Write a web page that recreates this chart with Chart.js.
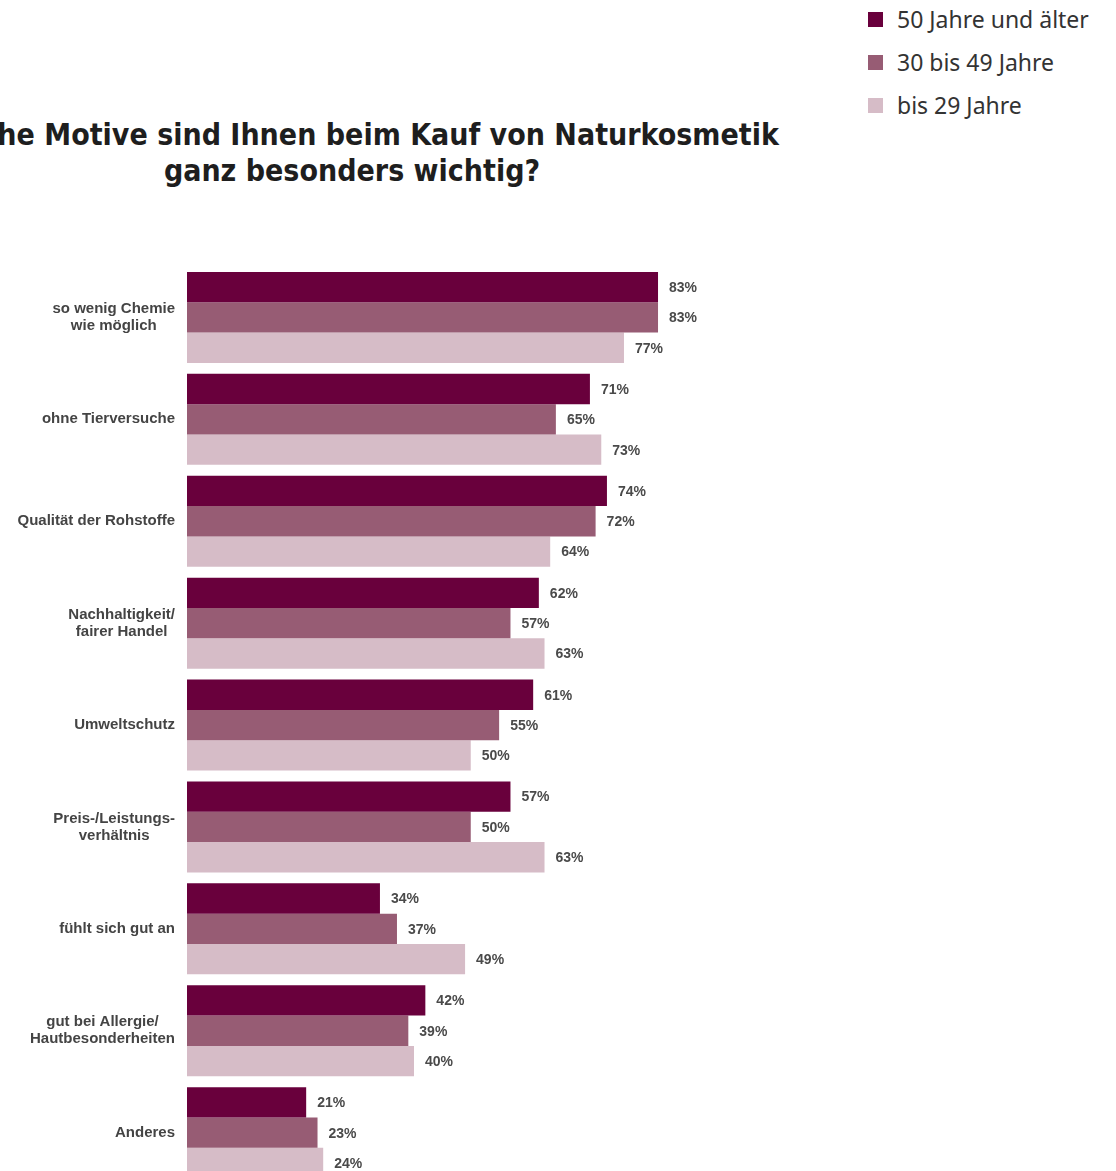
<!DOCTYPE html>
<html lang="de">
<head>
<meta charset="utf-8">
<title>Motive Naturkosmetik</title>
<script src="https://cdn.jsdelivr.net/npm/chart.js@4.4.1/dist/chart.umd.min.js"></script>
<style>
  html, body { margin: 0; padding: 0; background: #fff; overflow: hidden; }
  #wrap { position: relative; width: 1116px; height: 1190px; }
  #title {
    position: absolute; left: -148px; top: 117px; width: 1000px;
    text-align: center; color: #1e1e1e;
    font-family: "DejaVu Sans Condensed", "DejaVu Sans", sans-serif;
    font-stretch: condensed; font-weight: bold; font-size: 30px; line-height: 36px;
    white-space: nowrap;
  }
  #legend { position: absolute; left: 868px; top: 4px; margin: 0; padding: 0; list-style: none; }
  #legend li {
    display: flex; align-items: center; height: 30px; margin-bottom: 13px;
    font-family: "Noto Sans", sans-serif; font-size: 23px; color: #333;
  }
  #legend span.box { display: inline-block; width: 15px; height: 15px; margin-right: 14px; }
  #chartBox { position: absolute; left: 0; top: 0; width: 1116px; height: 1190px; }
</style>
</head>
<body>
<div id="wrap">
  <div id="title">Welche Motive sind Ihnen beim Kauf von Naturkosmetik<br>ganz besonders wichtig?</div>
  <ul id="legend"></ul>
  <div id="chartBox"><canvas id="motiveChart"></canvas></div>
</div>
<script>
const categories = [
  ['so wenig Chemie', 'wie möglich'],
  ['ohne Tierversuche'],
  ['Qualität der Rohstoffe'],
  ['Nachhaltigkeit/', 'fairer Handel'],
  ['Umweltschutz'],
  ['Preis-/Leistungs-', 'verhältnis'],
  ['fühlt sich gut an'],
  ['gut bei Allergie/', 'Hautbesonderheiten'],
  ['Anderes']
];
const seriesNames = ['50 Jahre und älter', '30 bis 49 Jahre', 'bis 29 Jahre'];
const ab50 = [83, 71, 74, 62, 61, 57, 34, 42, 21];
const von30bis49 = [83, 65, 72, 57, 55, 50, 37, 39, 23];
const bis29 = [77, 73, 64, 63, 50, 63, 49, 40, 24];
const colors = ['#69003c', '#975c74', '#d6bcc7'];

const labelFont = 'bold 15px "Liberation Sans", Arial, sans-serif';
const valueFont = 'bold 14px "Liberation Sans", Arial, sans-serif';

// category labels, lines centred on each other, right edge next to the bars
const categoryLabels = {
  id: 'categoryLabels',
  afterDraw(chart) {
    const y = chart.scales.y;
    const ctx = chart.ctx;
    ctx.save();
    ctx.font = labelFont;
    ctx.fillStyle = '#444';
    ctx.textAlign = 'center';
    ctx.textBaseline = 'middle';
    categories.forEach((lines, i) => {
      const widest = Math.max(...lines.map(l => ctx.measureText(l).width));
      const cx = chart.chartArea.left - 12 - widest / 2;
      const cy = y.getPixelForTick(i);
      lines.forEach((line, j) => {
        ctx.fillText(line, cx, cy + (j - (lines.length - 1) / 2) * 17);
      });
    });
    ctx.restore();
  }
};

// percentage next to the end of each bar
const valueLabels = {
  id: 'valueLabels',
  afterDatasetsDraw(chart) {
    const ctx = chart.ctx;
    ctx.save();
    ctx.font = valueFont;
    ctx.fillStyle = '#4a4a4a';
    ctx.textAlign = 'left';
    ctx.textBaseline = 'middle';
    chart.data.datasets.forEach((ds, d) => {
      chart.getDatasetMeta(d).data.forEach((bar, i) => {
        ctx.fillText(ds.data[i] + '%', bar.x + 11, bar.y + 1);
      });
    });
    ctx.restore();
  }
};

const legend = document.getElementById('legend');
seriesNames.forEach((name, i) => {
  const li = document.createElement('li');
  li.innerHTML = '<span class="box" style="background:' + colors[i] + '"></span>' + name;
  legend.appendChild(li);
});

new Chart(document.getElementById('motiveChart'), {
  type: 'bar',
  data: {
    labels: categories,
    datasets: [ab50, von30bis49, bis29].map((values, i) => ({
      label: seriesNames[i],
      data: values,
      backgroundColor: colors[i],
      borderWidth: 0,
      barPercentage: 1,
      categoryPercentage: 0.893
    }))
  },
  options: {
    indexAxis: 'y',
    responsive: true,
    maintainAspectRatio: false,
    animation: false,
    layout: { padding: { top: 266.5, bottom: 6.4, left: 0, right: 361.5 } },
    scales: {
      x: { display: false, min: 0, max: 100 },
      y: {
        grid: { display: false },
        border: { display: false },
        ticks: { display: false },
        afterFit(scale) { scale.width = 187; }
      }
    },
    plugins: {
      legend: { display: false },
      tooltip: { enabled: false }
    }
  },
  plugins: [categoryLabels, valueLabels]
});
</script>
</body>
</html>
